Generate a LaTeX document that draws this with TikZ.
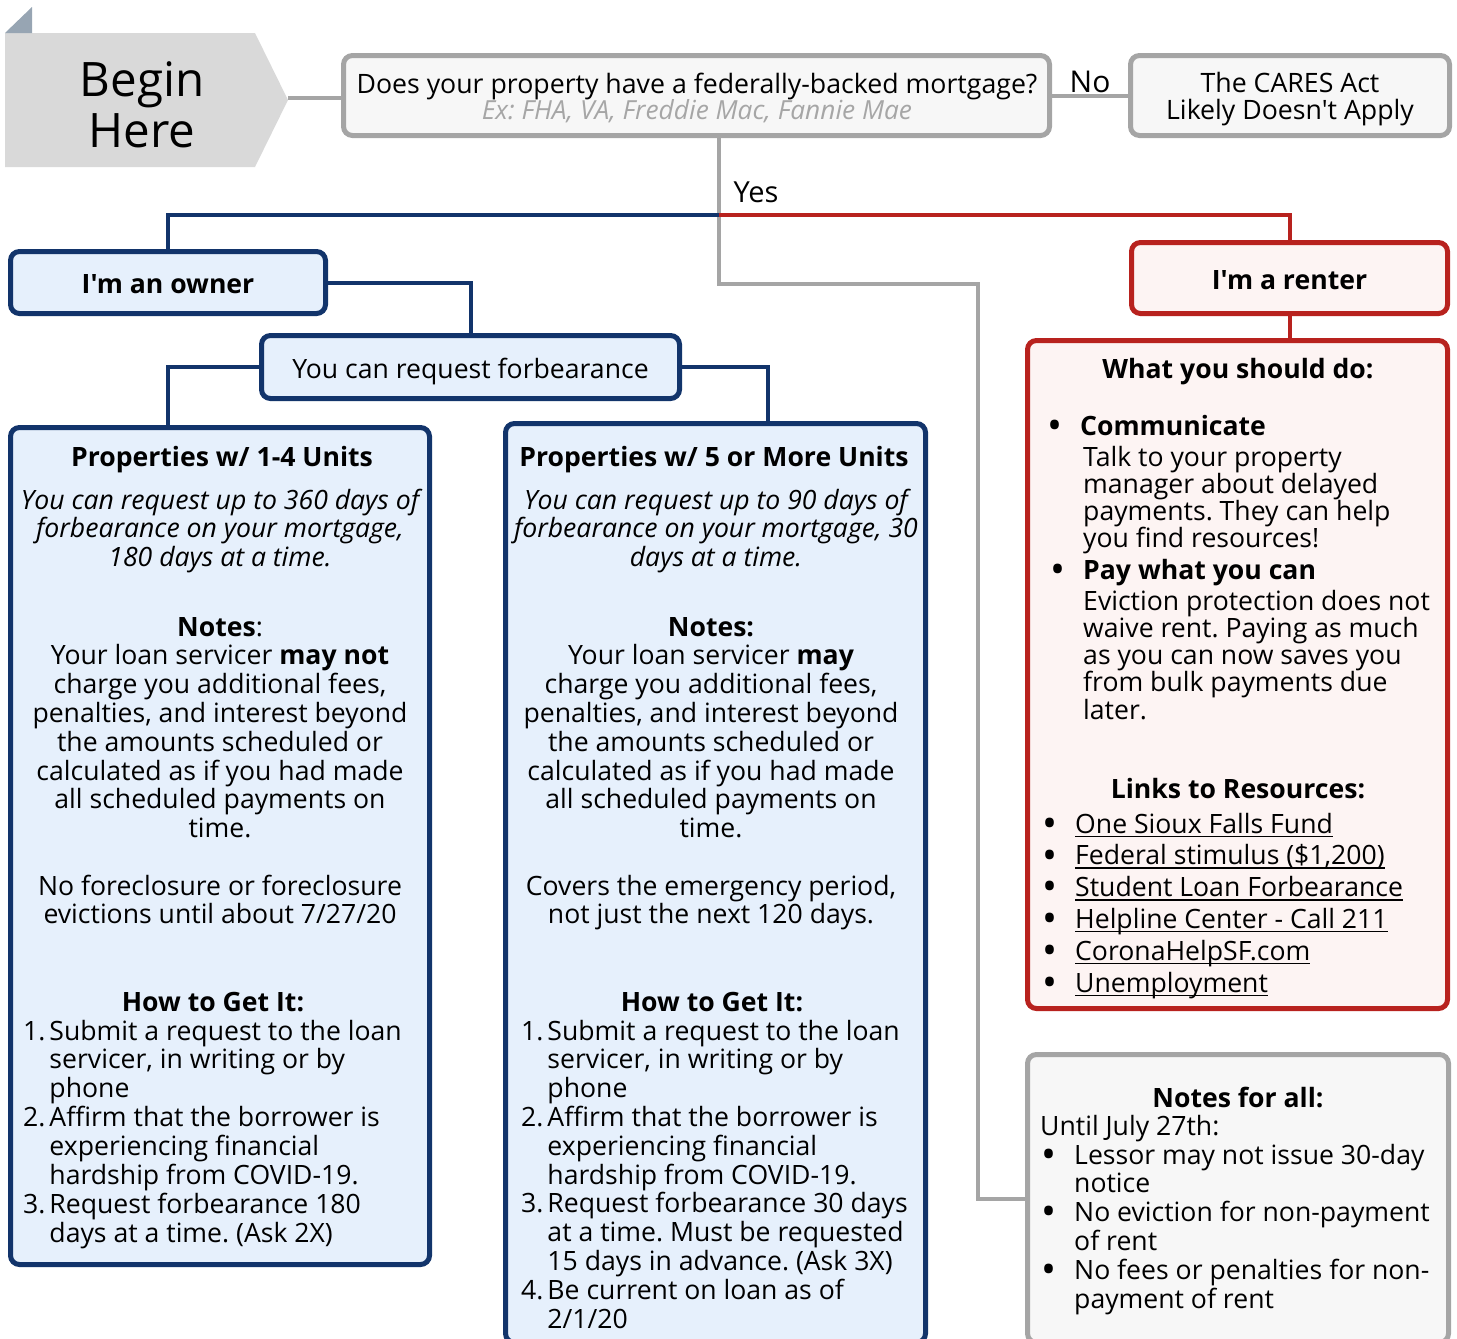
\documentclass[tikz,border=0pt]{standalone}
\usepackage{fontspec}
\setmainfont{Open Sans}[Ligatures=TeXOff]
\usetikzlibrary{calc}
\frenchspacing
\definecolor{navy}{HTML}{12346B}
\definecolor{ownfill}{HTML}{E6F0FC}
\definecolor{redb}{HTML}{B8221E}
\definecolor{renfill}{HTML}{FDF4F3}
\definecolor{grayb}{HTML}{A5A5A5}
\definecolor{grayf}{HTML}{F7F7F7}
\definecolor{begfill}{HTML}{D9D9D9}
\definecolor{trifill}{HTML}{97A5B3}
\definecolor{subgray}{HTML}{A6A6A6}
\newcommand\fsz[2]{\fontsize{#1pt}{#2pt}\selectfont}
\newcommand\blkC[2]{\vtop{\baselineskip=#1pt\lineskiplimit=-100pt\lineskip=0pt\let\\=\cr\halign{\hfil##\unskip\hfil\cr#2\crcr}}}
\newcommand\blkL[2]{\vtop{\baselineskip=#1pt\lineskiplimit=-100pt\lineskip=0pt\let\\=\cr\halign{##\unskip\hfil\cr#2\crcr}}}
\newcommand\blkN[2]{\vtop{\baselineskip=#1pt\lineskiplimit=-100pt\lineskip=0pt\let\\=\cr\halign{\hfil##\unskip&\hspace{4pt}##\unskip\hfil\cr#2\crcr}}}
\newcommand\blkB[2]{\vtop{\baselineskip=#1pt\lineskiplimit=-100pt\lineskip=0pt\let\\=\cr\halign{\makebox[50pt][c]{##\unskip}&##\unskip\hfil\cr#2\crcr}}}
\newcommand\bul{\smash{\raisebox{-4.2pt}{\scalebox{1.5}{•}}}}
\newsavebox\ulbox
\newcommand\myul[1]{\sbox\ulbox{#1}\rlap{\rule[-4pt]{\wd\ulbox}{1.5pt}}\usebox\ulbox}
\begin{document}
\begin{tikzpicture}[x=1pt,y=-1pt,
  txt/.style={inner sep=0pt, anchor=base, font=\fsz{26.6}{28.8}},
  btxt/.style={txt, font=\bfseries\fsz{26.6}{28.8}},
  boxbase/.style={line width=5pt, rounded corners=9pt, inner sep=0pt},
  ownerbox/.style={boxbase, draw=navy, fill=ownfill},
  renterbox/.style={boxbase, draw=redb, fill=renfill},
  graybox/.style={boxbase, draw=grayb, fill=grayf},
  blueline/.style={draw=navy, line width=4pt},
  redline/.style={draw=redb, line width=4pt},
  grayline/.style={draw=grayb, line width=4pt}]
\useasboundingbox (0,0) rectangle (1457,1339);

% Begin here
\fill[begfill] (5,33) -- (255,33) -- (288,100) -- (255,167) -- (5,167) -- cycle;
\fill[trifill] (5,33) -- (32,7) -- (32,33) -- cycle;
\coordinate (begintip) at (288,98);
\node[inner sep=0pt, anchor=base, font=\fsz{47.5}{52}] (begintxt) at (142,96) {\blkC{51}{Begin\\Here}};

% question and CARES
\node[graybox, minimum width=706pt, minimum height=80pt] (q) at (696.5,95.5) {};
\node[txt, font=\fsz{26.7}{28}] (qt) at (697,93) {Does your property have a federally-backed mortgage?};
\node[txt, font=\itshape\fsz{26.3}{28}, text=subgray] (qs) at (697,119) {Ex: FHA, VA, Freddie Mac, Fannie Mae};
\node[graybox, minimum width=319pt, minimum height=80pt] (cares) at (1290,95.5) {};
\node[txt, font=\fsz{26.7}{27}] (caret) at (1290,92) {\blkC{27}{The CARES Act\\Likely Doesn't Apply}};

% owner side boxes
\node[ownerbox, minimum width=315pt, minimum height=62pt] (owner) at (168,282.5) {};
\node[btxt] (ownert) at (168,293) {I'm an owner};
\node[ownerbox, minimum width=418pt, minimum height=63pt] (forb) at (470.5,367) {};
\node[txt] (forbt) at (470.5,378) {You can request forbearance};
\node[ownerbox, minimum width=419pt, minimum height=837pt] (left) at (220,846) {};
\node[ownerbox, minimum width=420pt, minimum height=919pt] (right) at (715.5,883) {};

% renter side boxes
\node[renterbox, minimum width=316pt, minimum height=71pt] (renter) at (1289.5,278) {};
\node[btxt] (rentert) at (1289.5,289) {I'm a renter};
\node[renterbox, minimum width=420pt, minimum height=668pt] (res) at (1237.5,674.5) {};
\node[graybox, minimum width=421pt, minimum height=288pt] (notes) at (1238,1198.5) {};

% connectors
\coordinate (split) at (719,215);
\draw[grayline] (begintip) -- (begintip -| q.west);
\draw[grayline] (q.east) -- (cares.west) node[midway, above, inner sep=1pt, font=\fsz{30}{30}, text=black] (nolab) {No};
\draw[grayline] (q.south -| split) |- (978,284) |- (notes.west);
\node[inner sep=0pt, anchor=base, font=\fsz{29}{30}] (yeslab) at (756,202) {Yes};
\draw[blueline] (split) -| (owner.north);
\draw[redline] (split) -| (renter.north);
\draw[blueline] (owner.east) -| (forb.north);
\draw[blueline] (forb.west) -| (owner.south |- left.north);
\draw[blueline] (forb.east) -| ($(right.north)+(52,0)$);
\draw[redline] (renter.south) -- (renter.south |- res.north);

% left box text
\node[btxt] (l1) at (222,466) {Properties w/ 1-4 Units};
\node[txt, font=\itshape\fsz{26.6}{28.6}] (l2) at (220,509) {\blkC{28.6}{You can request up to 360 days of\\forbearance on your mortgage,\\180 days at a time.}};
\node[txt] (l3) at (220,636) {\blkC{28.8}{\textbf{Notes}:\\Your loan servicer \textbf{may not}\\charge you additional fees,\\penalties, and interest beyond\\the amounts scheduled or\\calculated as if you had made\\all scheduled payments on\\time.}};
\node[txt] (l4) at (220,895) {\blkC{28.8}{No foreclosure or foreclosure\\evictions until about 7/27/20}};
\node[btxt] (l5) at (213,1011) {How to Get It:};
\node[txt, anchor=base west] (l6) at (23,1040) {\blkN{28.86}{1. & Submit a request to the loan\\ & servicer, in writing or by\\ & phone\\2. & Affirm that the borrower is\\ & experiencing financial\\ & hardship from COVID-19.\\3. & Request forbearance 180\\ & days at a time. (Ask 2X)}};

% right box text
\node[btxt] (r1) at (714,466) {Properties w/ 5 or More Units};
\node[txt, font=\itshape\fsz{26.6}{28.6}] (r2) at (716,509) {\blkC{28.6}{You can request up to 90 days of\\forbearance on your mortgage, 30\\days at a time.}};
\node[txt] (r3) at (711,636) {\blkC{28.8}{\textbf{Notes:}\\Your loan servicer \textbf{may}\\charge you additional fees,\\penalties, and interest beyond\\the amounts scheduled or\\calculated as if you had made\\all scheduled payments on\\time.}};
\node[txt] (r4) at (711,895) {\blkC{28.8}{Covers the emergency period,\\not just the next 120 days.}};
\node[btxt] (r5) at (712,1011) {How to Get It:};
\node[txt, anchor=base west] (r6) at (521,1040) {\blkN{28.8}{1. & Submit a request to the loan\\ & servicer, in writing or by\\ & phone\\2. & Affirm that the borrower is\\ & experiencing financial\\ & hardship from COVID-19.\\3. & Request forbearance 30 days\\ & at a time. Must be requested\\ & 15 days in advance. (Ask 3X)\\4. & Be current on loan as of\\ & 2/1/20}};

% resources box text
\node[btxt] (s1) at (1238,378) {What you should do:};
\node[txt, anchor=base west] (s2) at (1030,435) {\blkB{28}{\bul & \textbf{Communicate}}};
\node[txt, anchor=base west] (s3) at (1083,466) {\blkL{27.3}{Talk to your property\\manager about delayed\\payments. They can help\\you find resources!}};
\node[txt, anchor=base west] (s4) at (1033,579) {\blkB{28}{\bul & \textbf{Pay what you can}}};
\node[txt, anchor=base west] (s5) at (1083,610) {\blkL{27.25}{Eviction protection does not\\waive rent. Paying as much\\as you can now saves you\\from bulk payments due\\later.}};
\node[btxt] (s6) at (1238,798) {Links to Resources:};
\node[txt, anchor=base west] (s7) at (1025,833) {\blkB{31.8}{\bul & \myul{One Sioux Falls Fund}\\\bul & \myul{Federal stimulus (\$1,200)}\\\bul & \myul{Student Loan Forbearance}\\\bul & \myul{Helpline Center - Call 211}\\\bul & \myul{CoronaHelpSF.com}\\\bul & \myul{Unemployment}}};

% notes for all text
\node[btxt] (n1) at (1238,1107) {Notes for all:};
\node[txt, anchor=base west] (n2) at (1040,1135) {Until July 27th:};
\node[txt, anchor=base west] (n3) at (1024,1164) {\blkB{28.8}{\bul & Lessor may not issue 30-day\\ & notice\\\bul & No eviction for non-payment\\ & of rent\\\bul & No fees or penalties for non-\\ & payment of rent}};
\end{tikzpicture}
\end{document}
